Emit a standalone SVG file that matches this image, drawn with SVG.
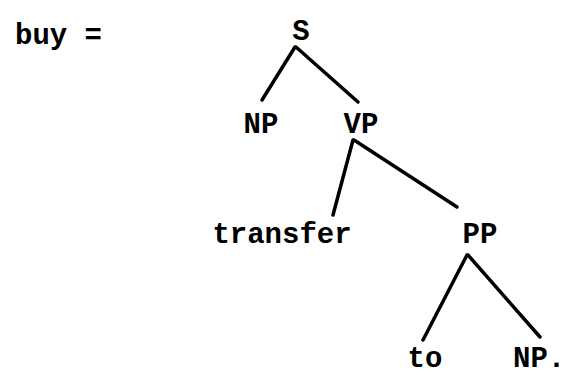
<svg xmlns="http://www.w3.org/2000/svg" width="565" height="375" viewBox="0 0 565 375">
<style>
text{font-family:"Liberation Mono","DejaVu Sans Mono",monospace;font-weight:bold;font-size:29px;fill:#000}
.e{stroke:#000;stroke-width:3.5;stroke-linecap:round;fill:none}
</style>
<rect width="565" height="375" fill="#fff"/>
<g id="label"><text x="15" y="44">buy =</text></g>
<g id="edges">
<line class="e" x1="295" y1="47" x2="262" y2="100"/>
<line class="e" x1="296" y1="47" x2="358" y2="102"/>
<line class="e" x1="353" y1="140" x2="333" y2="215"/>
<line class="e" x1="354" y1="140" x2="457" y2="207"/>
<line class="e" x1="467" y1="255" x2="423" y2="340"/>
<line class="e" x1="468" y1="255" x2="540" y2="337"/>
</g>
<g id="S"><text x="301" y="40" text-anchor="middle">S</text></g>
<g id="NP1"><text x="261" y="133" text-anchor="middle">NP</text></g>
<g id="VP"><text x="361" y="133" text-anchor="middle">VP</text></g>
<g id="transfer"><text x="282" y="243" text-anchor="middle">transfer</text></g>
<g id="PP"><text x="480" y="243" text-anchor="middle">PP</text></g>
<g id="to"><text x="425" y="367" text-anchor="middle">to</text></g>
<g id="NP2"><text x="513" y="367">NP.</text></g>
</svg>
